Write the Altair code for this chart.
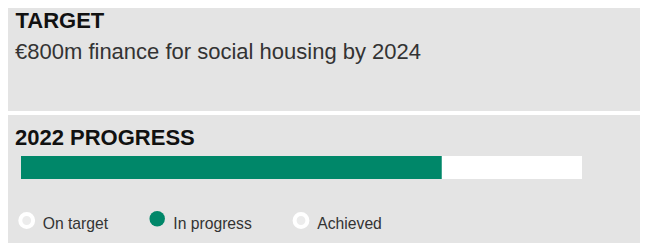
import altair as alt
import pandas as pd

# ---- data ----
heading_target = ["TARGET"]
target_text = ["€800m finance for social housing by 2024"]
heading_progress = ["2022 PROGRESS"]
goal_value = [800]        # €m target
progress_value = [600]    # €m achieved by 2022 (approx. 75% of bar)
legend_labels = ["On target", "In progress", "Achieved"]
legend_active = [False, True, False]

# ---- layout / style ----
W, H = 632, 235
BG = "#e4e4e4"
GREEN = "#008769"
FONT = "Liberation Sans"
legend_circle_x = [18.7, 149.2, 293]
legend_label_x = [34.7, 165.3, 309.3]

one = pd.DataFrame({"k": [0]})

panel_top = alt.Chart(one).mark_rect(color=BG).encode(
    x=alt.value(0), x2=alt.value(W), y=alt.value(0), y2=alt.value(103))
panel_bot = alt.Chart(one).mark_rect(color=BG).encode(
    x=alt.value(0), x2=alt.value(W), y=alt.value(107), y2=alt.value(H))

def text_layer(values, x, y, size, weight="normal", color="#333333"):
    df = pd.DataFrame({"t": values})
    return alt.Chart(df).mark_text(
        align="left", baseline="alphabetic", font=FONT, fontSize=size,
        fontWeight=weight, color=color,
    ).encode(x=alt.value(x), y=alt.value(y), text="t:N")

t1 = text_layer(heading_target, 7.5, 20, 22, "bold", "#111111")
t2 = text_layer(target_text, 7, 51, 22, "normal", "#333333")
t3 = text_layer(heading_progress, 7, 137, 22, "bold", "#111111")

xscale = alt.Scale(domain=[0, goal_value[0]], range=[13, 574])
goal_df = pd.DataFrame({"start": [0], "end": goal_value})
prog_df = pd.DataFrame({"start": [0], "end": progress_value})

track = alt.Chart(goal_df).mark_bar(color="#ffffff", cornerRadius=0).encode(
    x=alt.X("start:Q", scale=xscale, axis=None), x2="end:Q",
    y=alt.value(148), y2=alt.value(171))
fill = alt.Chart(prog_df).mark_bar(color=GREEN, cornerRadius=0).encode(
    x=alt.X("start:Q", scale=xscale, axis=None), x2="end:Q",
    y=alt.value(148), y2=alt.value(171))

legend_layers = []
for lab, active, cx, lx in zip(legend_labels, legend_active, legend_circle_x, legend_label_x):
    df = pd.DataFrame({"label": [lab]})
    if active:
        pt = alt.Chart(df).mark_point(filled=True, shape="circle", size=240,
                                      color=GREEN, opacity=1)
        cy = 210.7
    else:
        pt = alt.Chart(df).mark_point(filled=True, shape="circle", size=165,
                                      fill="#ececec", stroke="#ffffff",
                                      strokeWidth=4, opacity=1)
        cy = 212.5
    legend_layers.append(pt.encode(x=alt.value(cx), y=alt.value(cy)))
    legend_layers.append(
        alt.Chart(df).mark_text(align="left", baseline="alphabetic", font=FONT,
                                fontSize=15.7, color="#333333")
        .encode(x=alt.value(lx), y=alt.value(221), text="label:N"))

chart = alt.layer(panel_top, panel_bot, t1, t2, t3, track, fill, *legend_layers).properties(
    width=W, height=H, padding=0,
    autosize=alt.AutoSizeParams(type="none"),
    background="#ffffff",
).configure_view(stroke=None)

chart.save("out.html", embed_options={"renderer": "svg", "actions": False})
